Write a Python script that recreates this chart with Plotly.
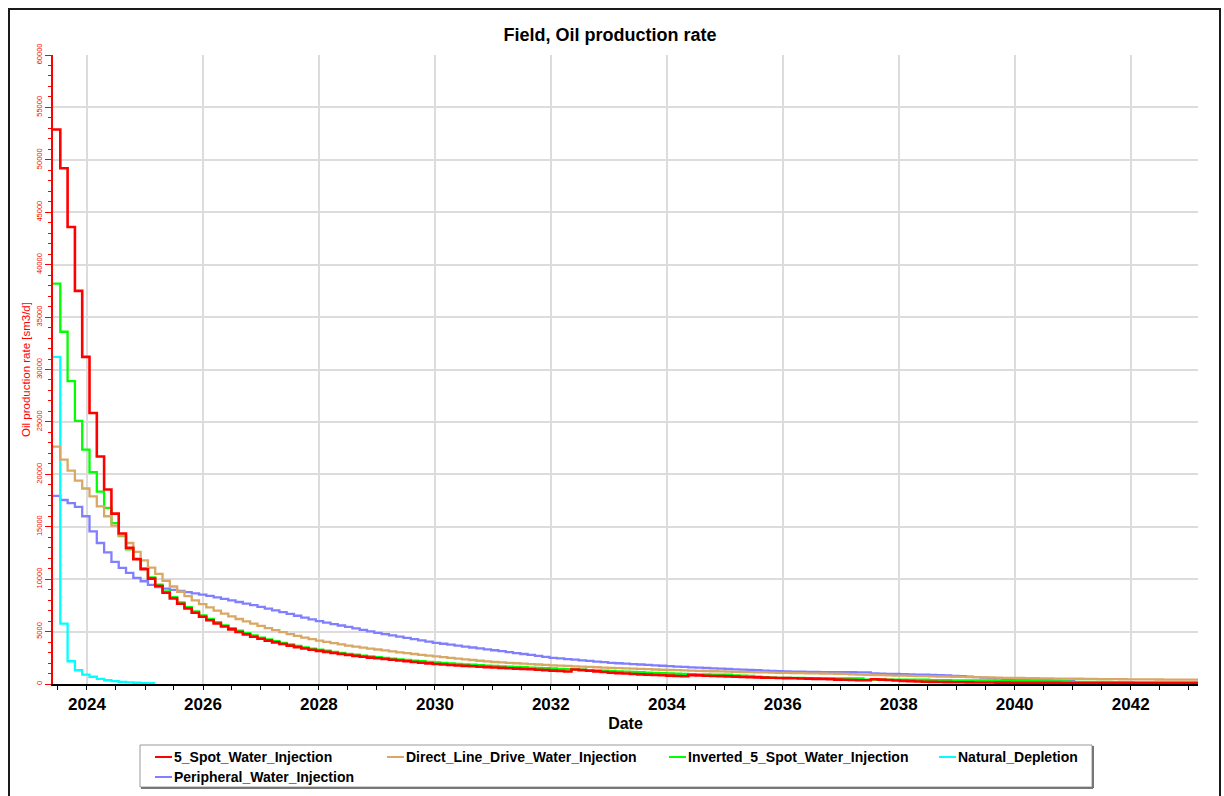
import pandas as pd
import plotly.graph_objects as go

# ---------------------------------------------------------------------------
# Simulated field oil production rate per report step [sm3/d]
# ---------------------------------------------------------------------------
STEP_START = "2023-06-01"
STEP_DAYS = 46

series_names = [
    "5_Spot_Water_Injection",
    "Direct_Line_Drive_Water_Injection",
    "Inverted_5_Spot_Water_Injection",
    "Natural_Depletion",
    "Peripheral_Water_Injection",
]
series_colors = ["#ff0000", "#d9a864", "#00ff00", "#00ffff", "#8080ff"]

five_spot = [
    52900, 49200, 43600, 37500, 31200, 25850, 21700, 18550, 16250, 14350,
    13000, 11900, 10950, 10050, 9350, 8700, 8150, 7650, 7200, 6800,
    6420, 6080, 5770, 5480, 5210, 4960, 4730, 4510, 4320, 4140,
    3970, 3810, 3660, 3520, 3390, 3270, 3160, 3060, 2960, 2860,
    2770, 2680, 2600, 2520, 2450, 2380, 2310, 2240, 2170, 2100,
    2030, 1970, 1910, 1860, 1810, 1770, 1730, 1690, 1650, 1610,
    1575, 1540, 1505, 1470, 1435, 1400, 1360, 1320, 1280, 1240,
    1190, 1380, 1320, 1260, 1200, 1140, 1080, 1040, 1000, 960,
    920, 890, 860, 830, 800, 770, 740, 850, 820, 790,
    770, 750, 730, 700, 670, 640, 630, 610, 590, 575,
    565, 550, 530, 510, 490, 470, 450, 420, 400, 380,
    360, 360, 460, 420, 380, 340, 300, 270, 240, 220,
    200, 185, 175, 165, 160, 155, 150, 145, 140, 135,
    130, 125, 120, 117, 114, 111, 108, 105, 102, 99,
    96, 93, 90, 88, 86, 84, 82, 80, 78, 76,
    74, 72, 70, 68, 66, 64, 62, 60,
]

direct_line_drive = [
    22650, 21400, 20350, 19400, 18650, 17900, 16950, 16000, 15100, 14150,
    13450, 12600, 11800, 11100, 10500, 9850, 9300, 8800, 8380, 7980,
    7620, 7300, 7000, 6720, 6450, 6200, 5970, 5750, 5540, 5330,
    5130, 4940, 4760, 4590, 4430, 4280, 4140, 4010, 3890, 3780,
    3670, 3570, 3470, 3380, 3290, 3200, 3110, 3020, 2940, 2860,
    2780, 2700, 2630, 2560, 2490, 2420, 2350, 2290, 2220, 2160,
    2100, 2060, 2020, 1980, 1940, 1900, 1860, 1820, 1780, 1750,
    1720, 1690, 1660, 1630, 1600, 1570, 1540, 1510, 1485, 1460,
    1435, 1410, 1385, 1360, 1335, 1315, 1295, 1275, 1255, 1235,
    1215, 1195, 1175, 1160, 1145, 1130, 1115, 1100, 1085, 1070,
    1055, 1040, 1030, 1020, 1010, 1000, 990, 980, 960, 930,
    900, 880, 860, 840, 820, 805, 790, 775, 760, 745,
    730, 715, 700, 690, 680, 665, 650, 635, 620, 605,
    590, 580, 570, 560, 550, 540, 530, 520, 510, 505,
    500, 490, 480, 472, 465, 458, 452, 446, 440, 436,
    432, 428, 424, 420, 417, 414, 411, 408,
]

inverted_five_spot = [
    38200, 33600, 28900, 25100, 22350, 20200, 18350, 16800, 15350, 14100,
    12850, 11950, 11050, 10180, 9470, 8830, 8280, 7780, 7330, 6930,
    6550, 6200, 5890, 5600, 5330, 5080, 4850, 4630, 4430, 4250,
    4080, 3920, 3770, 3630, 3500, 3380, 3270, 3170, 3070, 2970,
    2880, 2790, 2710, 2630, 2560, 2490, 2420, 2350, 2290, 2230,
    2170, 2110, 2055, 2010, 1965, 1920, 1880, 1840, 1800, 1760,
    1725, 1690, 1660, 1630, 1600, 1570, 1540, 1510, 1480, 1450,
    1420, 1390, 1360, 1330, 1300, 1270, 1240, 1210, 1180, 1150,
    1120, 1090, 1060, 1030, 1000, 980, 960, 940, 920, 905,
    890, 885, 880, 820, 790, 770, 700, 650, 610, 590,
    580, 575, 570, 565, 560, 555, 550, 545, 540, 535,
    530, 420, 418, 416, 414, 412, 410, 408, 406, 404,
    360, 358, 356, 354, 352, 350, 348, 346, 344, 270,
    268, 266, 264, 262, 260, 258, 256, 254, 252, 200,
    198, 196, 194, 192, 190, 188, 186, 184, 182, 180,
    178, 176, 174, 172, 170, 168, 165, 162,
]

natural_depletion = [
    31200, 5760, 2170, 1310, 900, 690, 490, 360, 280, 210,
    160, 120, 90, 70,
]

peripheral = [
    17950, 17550, 17250, 16900, 16000, 14550, 13450, 12550, 11650, 11070,
    10600, 10120, 9800, 9450, 9250, 9100, 8980, 8870, 8760, 8650,
    8530, 8400, 8260, 8120, 7970, 7820, 7670, 7520, 7360, 7190,
    7020, 6850, 6680, 6510, 6340, 6170, 6000, 5860, 5720, 5580,
    5440, 5300, 5160, 5020, 4880, 4760, 4640, 4520, 4400, 4280,
    4160, 4040, 3930, 3840, 3750, 3660, 3570, 3480, 3390, 3300,
    3220, 3130, 3040, 2950, 2860, 2770, 2680, 2590, 2500, 2440,
    2380, 2320, 2260, 2200, 2140, 2080, 2020, 1980, 1940, 1900,
    1860, 1820, 1780, 1740, 1700, 1665, 1630, 1595, 1560, 1525,
    1490, 1460, 1430, 1400, 1370, 1340, 1310, 1280, 1250, 1220,
    1195, 1180, 1170, 1160, 1150, 1140, 1135, 1130, 1125, 1120,
    1115, 1110, 1020, 990, 970, 955, 940, 920, 900, 880,
    860, 840, 810, 780, 750, 700, 650, 600, 560, 520,
    490, 460, 440, 420, 400, 380, 360, 345, 330, 320,
]

series_values = [five_spot, direct_line_drive, inverted_five_spot,
                 natural_depletion, peripheral]

# ---------------------------------------------------------------------------
# Figure geometry (pixels)
# ---------------------------------------------------------------------------
W, H = 1224, 796
PLOT_L, PLOT_R, PLOT_T, PLOT_B = 53, 1198, 55, 684
FONT = "Liberation Sans, Arial, Helvetica, sans-serif"


def px_x(p):
    return (p - PLOT_L) / (PLOT_R - PLOT_L)


def px_y(p):
    return (PLOT_B - p) / (PLOT_B - PLOT_T)


fig = go.Figure()

# draw later series first so the 5-spot case sits on top
for name, color, values in reversed(list(zip(series_names, series_colors, series_values))):
    dates = pd.date_range(STEP_START, periods=len(values) + 1, freq=f"{STEP_DAYS}D")
    fig.add_trace(go.Scatter(
        x=dates,
        y=list(values) + [values[-1]],
        mode="lines",
        line=dict(color=color, width=2.6 if name == series_names[0] else 2.3, shape="hv"),
        name=name,
        showlegend=False,
    ))

# ---------------------------------------------------------------------------
# Legend box drawn under the plot
# ---------------------------------------------------------------------------
legend_rows = [
    [(0, 155), (1, 387), (2, 669), (3, 939)],
    [(4, 155)],
]
legend_row_y = [757, 777]
shapes = []
annotations = []
for row, ypx in zip(legend_rows, legend_row_y):
    for idx, xpx in row:
        shapes.append(dict(type="line", xref="paper", yref="paper",
                           x0=px_x(xpx), x1=px_x(xpx + 17), y0=px_y(ypx), y1=px_y(ypx),
                           line=dict(color=series_colors[idx], width=2)))
        annotations.append(dict(text=f"<b>{series_names[idx]}</b>", xref="paper", yref="paper",
                                x=px_x(xpx + 17), y=px_y(ypx), xanchor="left", yanchor="middle",
                                showarrow=False, font=dict(family=FONT, size=14, color="black")))

# legend frame with a soft shadow on the lower/right edges
shapes.append(dict(type="rect", xref="paper", yref="paper",
                   x0=px_x(140), x1=px_x(1092), y0=px_y(787), y1=px_y(745),
                   line=dict(color="#9a9a9a", width=1)))
shapes.append(dict(type="line", xref="paper", yref="paper",
                   x0=px_x(141), x1=px_x(1093), y0=px_y(788), y1=px_y(788),
                   line=dict(color="#777777", width=2)))
shapes.append(dict(type="line", xref="paper", yref="paper",
                   x0=px_x(1093), x1=px_x(1093), y0=px_y(788), y1=px_y(746),
                   line=dict(color="#777777", width=2)))

# outer frame around the whole chart
shapes.append(dict(type="rect", xref="paper", yref="paper",
                   x0=px_x(9), x1=px_x(1220), y0=px_y(810), y1=px_y(9),
                   line=dict(color="#1a1a1a", width=2)))

fig.update_layout(
    width=W,
    height=H,
    margin=dict(l=PLOT_L, r=W - PLOT_R, t=PLOT_T, b=H - PLOT_B, pad=0),
    paper_bgcolor="white",
    plot_bgcolor="white",
    font=dict(family=FONT, color="black"),
    title=dict(text="<b>Field, Oil production rate</b>", xref="container", x=610 / W,
               y=1 - 35 / H, yanchor="middle", xanchor="center",
               font=dict(family=FONT, size=18, color="black")),
    showlegend=False,
    shapes=shapes,
    annotations=annotations,
    xaxis=dict(
        type="date",
        range=["2023-06-01", "2043-03-01"],
        tick0="2024-01-01",
        dtick="M24",
        tickformat="%Y",
        tickfont=dict(family=FONT, size=17, color="black", weight="bold"),
        ticks="outside", ticklen=4, tickwidth=1, tickcolor="black",
        showgrid=True, gridcolor="#dcdcdc", gridwidth=1.5,
        showline=True, linecolor="black", linewidth=2,
        zeroline=False,
        minor=dict(dtick="M6", tick0="2024-01-01", ticks="outside", ticklen=4,
                   tickcolor="black", showgrid=False),
        title=dict(text="<b>Date</b>", font=dict(family=FONT, size=16, color="black"), standoff=4),
    ),
    yaxis=dict(
        range=[0, 60000],
        tick0=0,
        dtick=5000,
        tickformat="d",
        tickangle=-90,
        tickfont=dict(family=FONT, size=7.5, color="red"),
        ticks="outside", ticklen=6, tickwidth=1, tickcolor="red",
        showgrid=True, gridcolor="#dcdcdc", gridwidth=1.5,
        showline=True, linecolor="red", linewidth=2,
        zeroline=False,
        minor=dict(dtick=1000, ticks="outside", ticklen=3, tickcolor="red", showgrid=False),
        title=dict(text="Oil production rate [sm3/d]", font=dict(family=FONT, size=11.5, color="red"),
                   standoff=2),
    ),
)

fig.write_html("out.html")
